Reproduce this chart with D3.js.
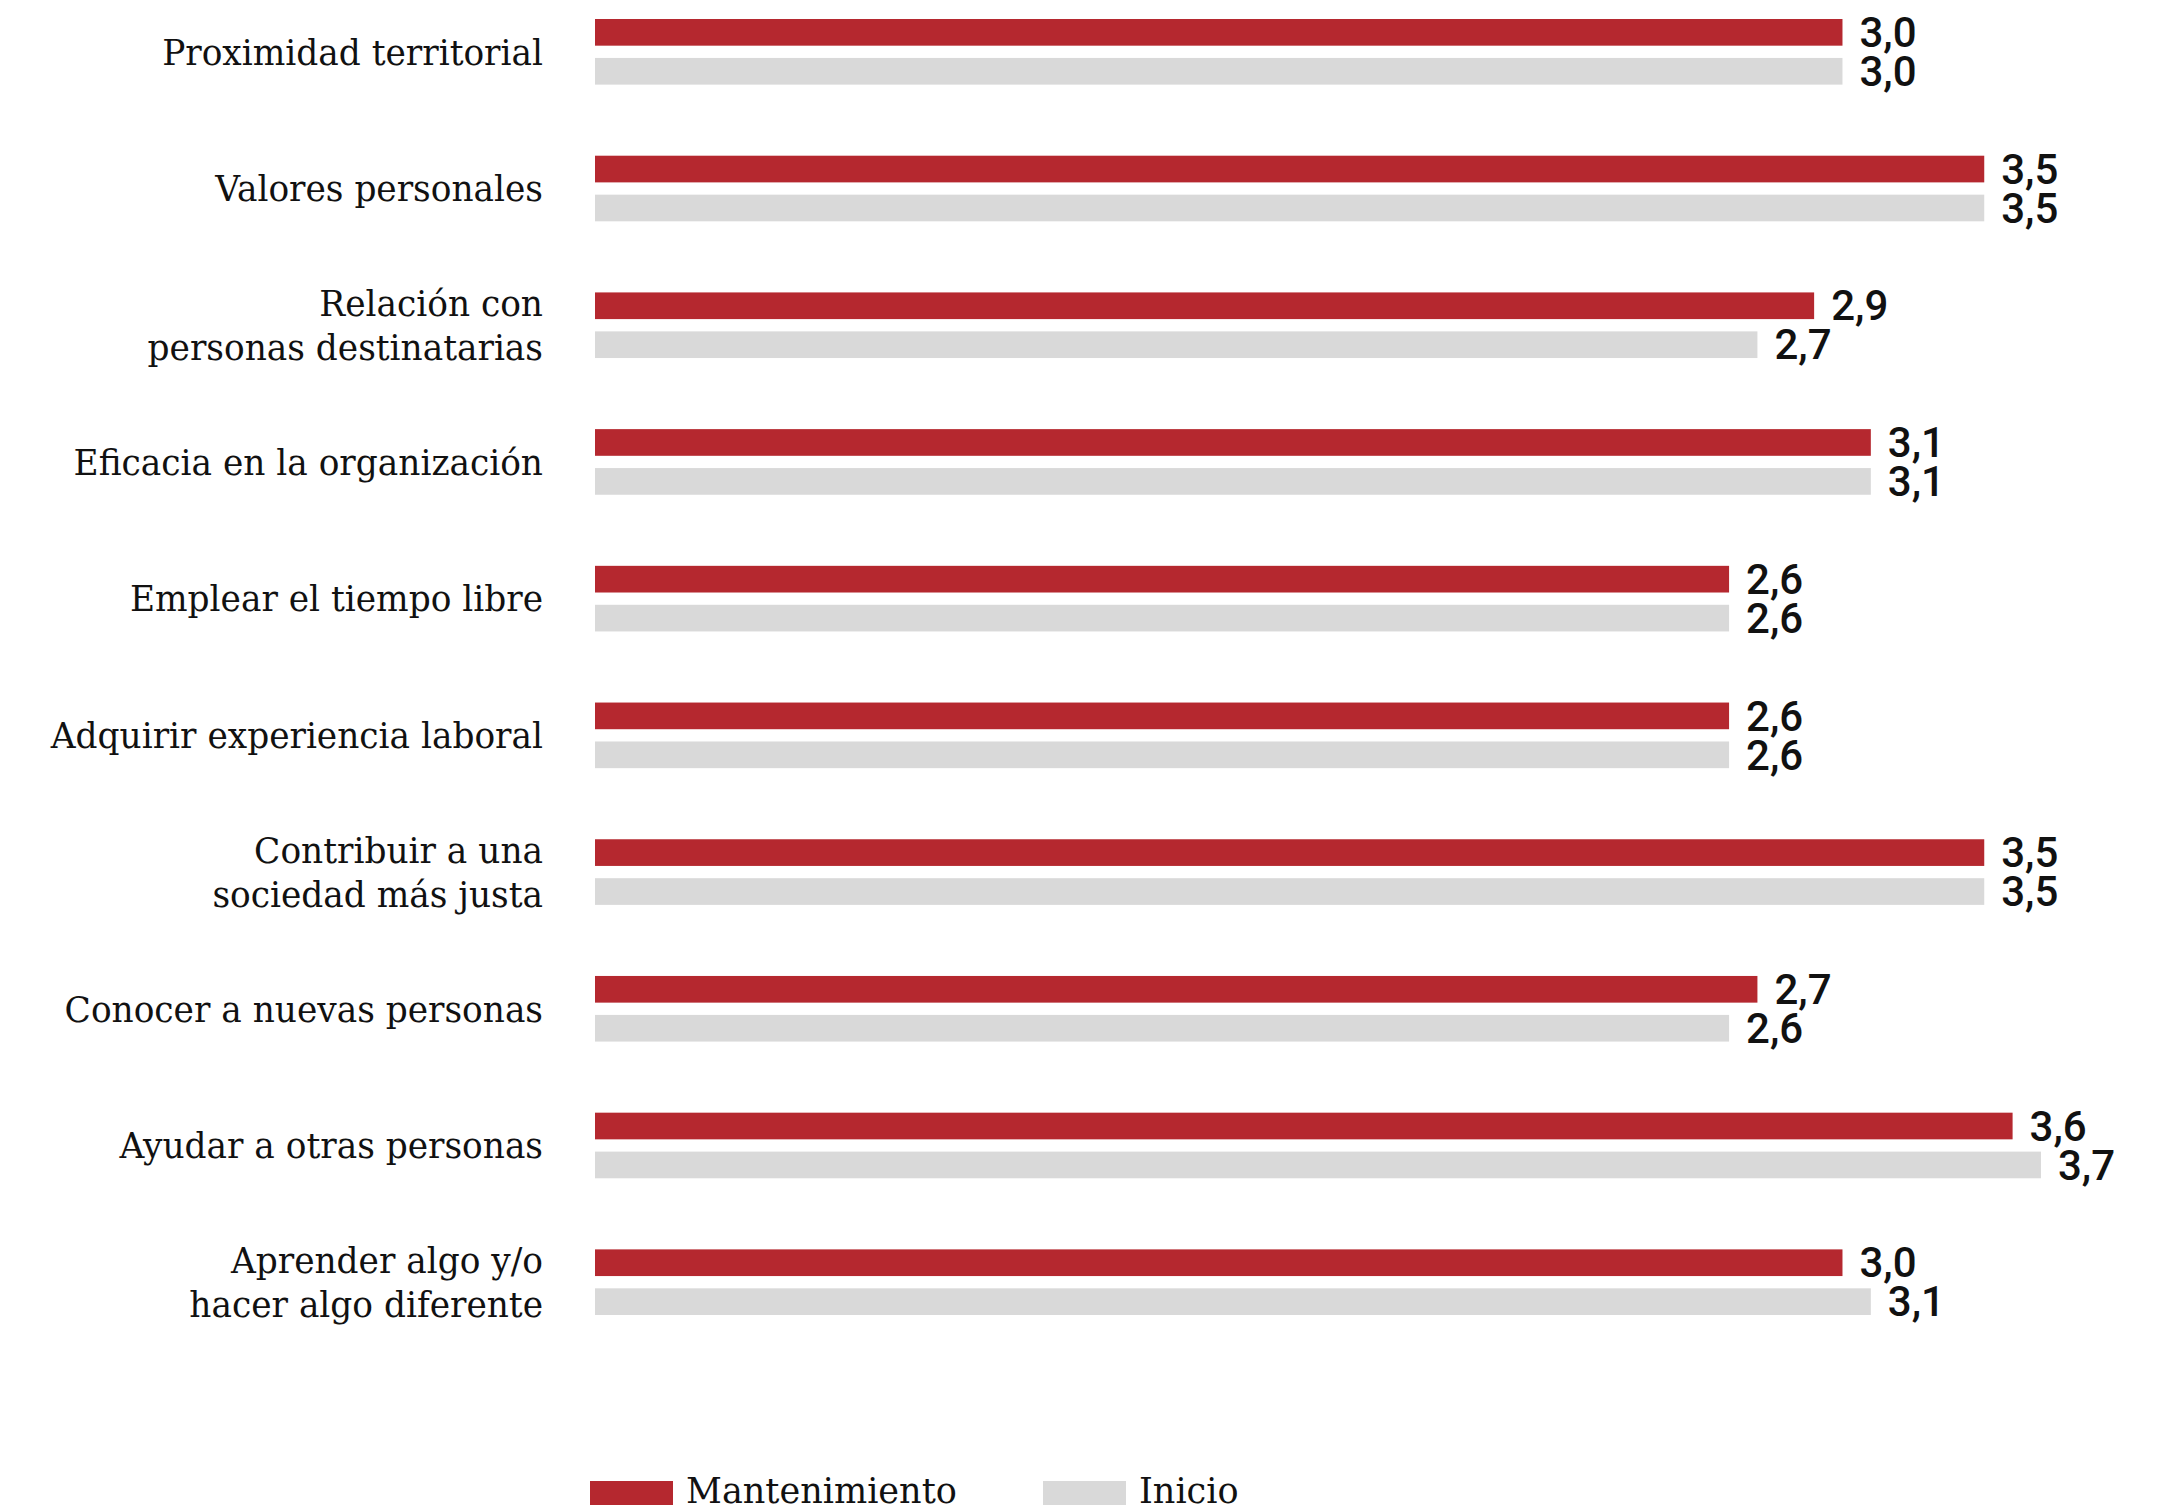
<!DOCTYPE html>
<html>
<head>
<meta charset="utf-8">
<script src="https://cdn.jsdelivr.net/npm/d3@7"></script>
<style>
  html, body { margin: 0; padding: 0; background: #ffffff; }
  svg { display: block; }
</style>
</head>
<body>
<div id="chart"></div>
<script>
// ---- Data ----
const categories = [
  "Proximidad territorial",
  "Valores personales",
  "Relación con\npersonas destinatarias",
  "Eficacia en la organización",
  "Emplear el tiempo libre",
  "Adquirir experiencia laboral",
  "Contribuir a una\nsociedad más justa",
  "Conocer a nuevas personas",
  "Ayudar a otras personas",
  "Aprender algo y/o\nhacer algo diferente"
];
const seriesNames = ["Mantenimiento", "Inicio"];
const mantenimiento = [3.0, 3.5, 2.9, 3.1, 2.6, 2.6, 3.5, 2.7, 3.6, 3.0];
const inicio        = [3.0, 3.5, 2.7, 3.1, 2.6, 2.6, 3.5, 2.6, 3.7, 3.1];
const seriesColors = ["#b5282f", "#d9d9d9"];

// ---- Layout ----
const W = 2177, H = 1511;
const xDomain = [-1.4, 4.0];
const labelRight = 543;
const labelFont = "'DejaVu Serif', 'Liberation Serif', serif";
const labelSize = 35;
const lineH = 43.6;
const targetWidth = 381; // width of "Proximidad territorial" in reference

const svg = d3.select("#chart").append("svg")
  .attr("width", W).attr("height", H);

const x = d3.scaleLinear().domain(xDomain).range([595, 2126]);
const y = d3.scaleBand().domain(d3.range(categories.length))
  .range([19, 1315]).paddingInner(0.52).paddingOuter(0);
const ySub = d3.scaleBand().domain(seriesNames)
  .range([0, y.bandwidth()]).paddingInner(0.315).paddingOuter(0);

const seriesValues = [mantenimiento, inicio];
const rows = categories.map((c, i) => ({
  cat: c, i,
  vals: seriesNames.map((s, k) => ({ s, k, v: seriesValues[k][i] }))
}));

const locale = d3.formatLocale({ decimal: ",", thousands: ".", grouping: [3], currency: ["", "€"] });
const fmt = locale.format(".1f");

// bars
const g = svg.append("g");
const groups = g.selectAll("g.grp").data(rows).join("g")
  .attr("class", "grp")
  .attr("transform", d => `translate(0,${y(d.i)})`);

groups.selectAll("rect").data(d => d.vals).join("rect")
  .attr("x", x(xDomain[0]))
  .attr("y", d => ySub(d.s))
  .attr("width", d => x(d.v) - x(xDomain[0]))
  .attr("height", ySub.bandwidth())
  .attr("fill", (d) => seriesColors[d.k]);

groups.selectAll("text.val").data(d => d.vals).join("text")
  .attr("class", "val")
  .attr("x", d => x(d.v) + 17)
  .attr("y", d => ySub(d.s) + ySub.bandwidth() / 2)
  .attr("dy", "0.35em")
  .attr("font-family", "Roboto, 'Noto Sans', sans-serif")
  .attr("font-weight", 500)
  .attr("font-size", 42)
  .attr("fill", "#111")
  .text(d => fmt(d.v));

// category labels (horizontally condensed to match the reference face)
const lab = svg.append("g").attr("class", "labels");
const capHalf = labelSize * 0.729 / 2;
const labTexts = lab.selectAll("text").data(rows).join("text")
  .attr("text-anchor", "end")
  .attr("font-family", labelFont)
  .attr("font-size", labelSize)
  .attr("fill", "#111");
labTexts.each(function(d) {
  const lines = d.cat.split("\n");
  const cy = y(d.i) + y.bandwidth() / 2;
  const first = cy + capHalf - (lines.length - 1) * lineH / 2;
  d3.select(this).selectAll("tspan").data(lines).join("tspan")
    .attr("x", 0)
    .attr("y", (l, j) => first + j * lineH)
    .text(l => l);
});
const measured = labTexts.filter(d => d.i === 0).node().getComputedTextLength();
const k = targetWidth / measured;
lab.attr("transform", `translate(${labelRight},0) scale(${k},1)`);

// legend
const leg = svg.append("g").attr("class", "legend");
const legX = [590, 1043];
const kLeg = k * 1.02;
seriesNames.forEach((s, i) => {
  leg.append("rect")
    .attr("x", legX[i]).attr("y", 1481)
    .attr("width", 83).attr("height", 24)
    .attr("fill", seriesColors[i]);
  leg.append("text")
    .attr("transform", `translate(${legX[i] + 96},1503) scale(${kLeg},1)`)
    .attr("font-family", labelFont)
    .attr("font-size", labelSize)
    .attr("fill", "#111")
    .text(s);
});
</script>
</body>
</html>
